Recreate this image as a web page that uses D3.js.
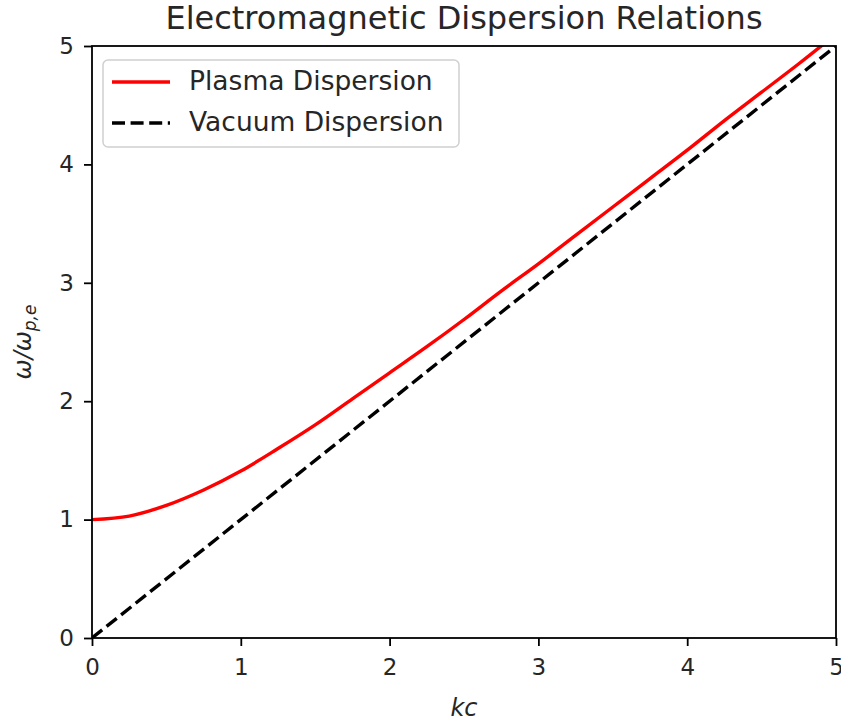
<!DOCTYPE html>
<html>
<head>
<meta charset="utf-8">
<script src="https://cdn.jsdelivr.net/npm/d3@7"></script>
<style>
  body { margin: 0; background: #fff; }
  svg text { font-family: "DejaVu Sans", sans-serif; fill: #262626; }
</style>
</head>
<body>
<div id="vis"></div>
<script>
// frame and margins
const FRAME_WIDTH = 841;
const FRAME_HEIGHT = 725;
const MARGINS = {left: 92, right: 5, top: 46, bottom: 87};

// values
const kc = [0, 0.25, 0.5, 0.75, 1, 1.25, 1.5, 1.75, 2, 2.25, 2.5,
            2.75, 3, 3.25, 3.5, 3.75, 4, 4.25, 4.5, 4.75, 5];
const plasma = [1.00, 1.03, 1.12, 1.25, 1.41, 1.60, 1.80, 2.02, 2.24, 2.46, 2.69,
                2.93, 3.16, 3.40, 3.64, 3.88, 4.12, 4.37, 4.61, 4.85, 5.10];
const vacuumK = [0, 5];
const vacuum = [0, 5];
const xTicks = [0, 1, 2, 3, 4, 5];
const yTicks = [0, 1, 2, 3, 4, 5];

const W = FRAME_WIDTH - MARGINS.left - MARGINS.right;
const H = FRAME_HEIGHT - MARGINS.top - MARGINS.bottom;
const DASH = "13,5.6";

const svg = d3.select("#vis")
  .append("svg")
    .attr("width", FRAME_WIDTH)
    .attr("height", FRAME_HEIGHT);

const x = d3.scaleLinear().domain([0, 5]).range([0, W]);
const y = d3.scaleLinear().domain([0, 5]).range([H, 0]);

const g = svg.append("g")
  .attr("transform", `translate(${MARGINS.left},${MARGINS.top})`);

g.append("clipPath").attr("id", "clip")
  .append("rect").attr("width", W).attr("height", H);

// lines
const line = d3.line()
  .x(d => x(d[0]))
  .y(d => y(d[1]))
  .curve(d3.curveCatmullRom);

g.append("path")
  .datum(kc.map((k, i) => [k, plasma[i]]))
  .attr("clip-path", "url(#clip)")
  .attr("d", line)
  .attr("fill", "none")
  .attr("stroke", "#ff0000")
  .attr("stroke-width", 3.4);

g.append("path")
  .datum(vacuumK.map((k, i) => [k, vacuum[i]]))
  .attr("clip-path", "url(#clip)")
  .attr("d", line)
  .attr("fill", "none")
  .attr("stroke", "#000")
  .attr("stroke-width", 3.4)
  .attr("stroke-dasharray", DASH);

// axes
const xAxis = g.append("g")
  .attr("transform", `translate(0,${H})`)
  .call(d3.axisBottom(x).tickValues(xTicks).tickFormat(d3.format("d"))
        .tickSize(8).tickPadding(13));
const yAxis = g.append("g")
  .call(d3.axisLeft(y).tickValues(yTicks).tickFormat(d3.format("d"))
        .tickSize(8).tickPadding(10));

[xAxis, yAxis].forEach(a => {
  a.select(".domain").remove();
  a.selectAll("line").attr("stroke", "#000").attr("stroke-width", 1.8);
  a.selectAll("text")
    .style("font-family", "DejaVu Sans")
    .style("font-size", "23px")
    .attr("fill", "#262626");
});

// frame
g.append("rect")
  .attr("width", W).attr("height", H)
  .attr("fill", "none")
  .attr("stroke", "#000")
  .attr("stroke-width", 1.8);

// title
svg.append("text")
  .attr("x", MARGINS.left + W / 2)
  .attr("y", 29)
  .attr("text-anchor", "middle")
  .style("font-size", "32px")
  .text("Electromagnetic Dispersion Relations");

// x label
svg.append("text")
  .attr("x", MARGINS.left + W / 2)
  .attr("y", 716)
  .attr("text-anchor", "middle")
  .style("font-size", "24px")
  .style("font-style", "italic")
  .text("kc");

// y label
const yl = svg.append("text")
  .attr("transform", `translate(31,${MARGINS.top + H / 2}) rotate(-90)`)
  .attr("text-anchor", "middle")
  .style("font-size", "24px")
  .style("font-style", "italic");
yl.append("tspan").text("ω/ω");
yl.append("tspan").attr("dy", 5).style("font-size", "17px").text("p,e");

// legend
const legend = g.append("g").attr("transform", "translate(11,14)");
legend.append("rect")
  .attr("width", 356).attr("height", 87)
  .attr("rx", 5)
  .attr("fill", "#fff").attr("fill-opacity", 0.8)
  .attr("stroke", "#d0d0d0").attr("stroke-width", 1.5);

const items = [
  {label: "Plasma Dispersion", color: "#ff0000", dash: null},
  {label: "Vacuum Dispersion", color: "#000", dash: DASH}
];
const row = legend.selectAll("g.item")
  .data(items)
  .enter()
  .append("g")
    .attr("class", "item")
    .attr("transform", (d, i) => `translate(0,${22 + i * 41})`);
row.append("line")
  .attr("x1", 9).attr("x2", 67)
  .attr("stroke", d => d.color)
  .attr("stroke-width", 3.4)
  .attr("stroke-dasharray", d => d.dash);
row.append("text")
  .attr("x", 86).attr("y", 8)
  .style("font-size", "26.5px")
  .text(d => d.label);
</script>
</body>
</html>
